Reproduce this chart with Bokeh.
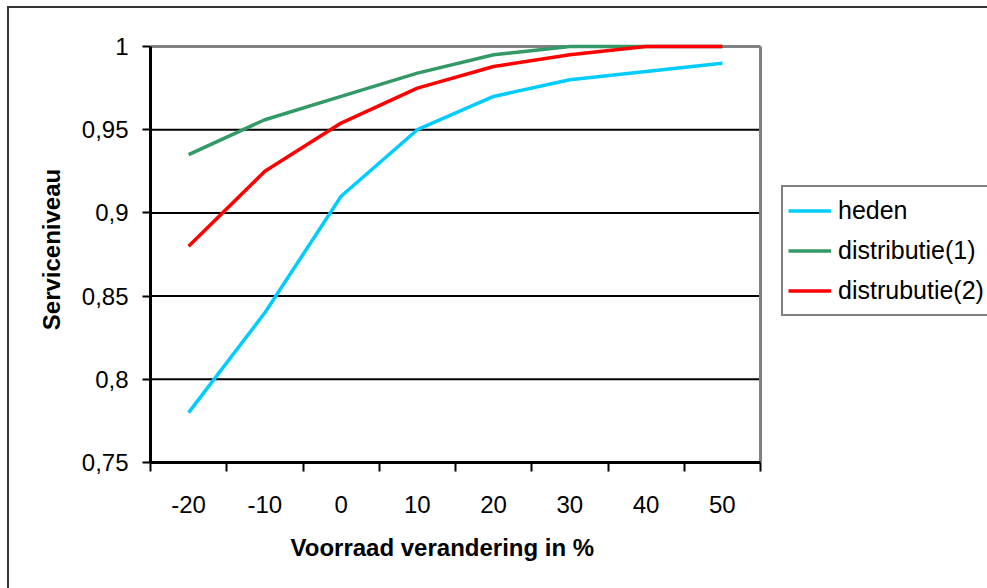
from bokeh.plotting import figure
from bokeh.models import (Range1d, FixedTicker, CustomJSTickFormatter, Legend,
                          LegendItem, Title)
from bokeh.embed import file_html
from bokeh.resources import INLINE

# Voorraadverandering (%) per categorie en het bijbehorende serviceniveau
categories = ["-20", "-10", "0", "10", "20", "30", "40", "50"]
heden = [0.78, 0.84, 0.91, 0.95, 0.97, 0.98, 0.985, 0.99]
distributie_1 = [0.935, 0.956, 0.97, 0.984, 0.995, 1.0, 1.0, 1.0]
distrubutie_2 = [0.88, 0.925, 0.954, 0.975, 0.988, 0.995, 1.0, 1.0]

series_names = ["heden", "distributie(1)", "distrubutie(2)"]
series_values = [heden, distributie_1, distrubutie_2]
series_colors = ["#00CCFF", "#339966", "#FF0000"]

y_ticks = [0.75, 0.8, 0.85, 0.9, 0.95, 1.0]
y_grid = [0.8, 0.85, 0.9, 0.95]

x_title = "Voorraad verandering in %"
y_title = "Serviceniveau"

FONT = "Liberation Sans"

# canvas geometry (pixels)
W, H = 987, 588
LEFT, TOP, BOTTOM = 150, 36, 126
PLOT_W, PLOT_H = 610, 416          # the plotting area proper
FRAME_W = W - LEFT                 # frame runs on to the right edge so the legend fits in it
FRAME_H = H - TOP - BOTTOM

n = len(categories)
y0, y1 = y_ticks[0], y_ticks[-1]
x_end = n * FRAME_W / PLOT_W
y_end = y0 + (y1 - y0) * FRAME_H / PLOT_H

# categories sit in the middle of equal slots; tick marks fall between them
x_centers = [i + 0.5 for i in range(n)]
x_bounds = list(range(n + 1))

p = figure(width=W, height=H, output_backend="svg", toolbar_location=None,
           x_range=Range1d(0, x_end), y_range=Range1d(y0, y_end),
           min_border_left=LEFT, min_border_right=0,
           min_border_top=TOP, min_border_bottom=BOTTOM,
           background_fill_color="white", border_fill_color=None)
p.outline_line_color = None

# chart-area frame: dark left and top edge painted behind the canvas
edge = "linear-gradient(#333333, #333333)"
p.styles = {"background": f"{edge} 7px 6px / 2px 100% no-repeat, "
                          f"{edge} 7px 6px / 100% 2px no-repeat, #ffffff"}

# horizontal gridlines across the plotting area only
p.segment(x0=[0] * len(y_grid), x1=[n] * len(y_grid), y0=y_grid, y1=y_grid,
          line_color="black", line_width=2)
# grey border on the top and right of the plotting area
p.segment(x0=[0, n], x1=[n, n], y0=[y1, y0], y1=[y1, y1],
          line_color="#808080", line_width=3)

renderers = []
for name, vals, col in zip(series_names, series_values, series_colors):
    r = p.line(x_centers, vals, line_color=col, line_width=3.5)
    renderers.append((name, r))

# x axis: labels at the slot centres, tick marks on the slot boundaries
xa = p.xaxis[0]
xa.bounds = (0, n)
xa.ticker = FixedTicker(ticks=x_centers, minor_ticks=x_bounds)
xa.major_label_overrides = {c: lab for c, lab in zip(x_centers, categories)}
xa.major_tick_out = 0
xa.major_tick_in = 0
xa.minor_tick_out = 9
xa.minor_tick_in = 0
xa.minor_tick_line_color = "black"
xa.minor_tick_line_width = 2
xa.axis_line_color = "black"
xa.axis_line_width = 3
xa.major_label_standoff = 24
xa.major_label_text_font = FONT
xa.major_label_text_font_size = "24px"
xa.major_label_text_color = "black"

# x axis title, placed under the plotting area rather than the wider frame
p.add_layout(Title(text=x_title, align="left", offset=140, standoff=32,
                   text_font=FONT, text_font_size="24px", text_font_style="bold",
                   text_color="black"), "below")

ya = p.yaxis[0]
ya.bounds = (y0, y1)
ya.ticker = FixedTicker(ticks=y_ticks, minor_ticks=[])
ya.formatter = CustomJSTickFormatter(code="return tick.toString().replace('.', ',');")
ya.major_tick_out = 8
ya.major_tick_in = 0
ya.major_tick_line_color = "black"
ya.major_tick_line_width = 2
ya.minor_tick_out = 0
ya.minor_tick_in = 0
ya.axis_line_color = "black"
ya.axis_line_width = 3
ya.major_label_standoff = 14
ya.major_label_text_font = FONT
ya.major_label_text_font_size = "24px"
ya.major_label_text_color = "black"
ya.axis_label = y_title
ya.axis_label_text_font = FONT
ya.axis_label_text_font_size = "24px"
ya.axis_label_text_font_style = "bold"
ya.axis_label_text_color = "black"
ya.axis_label_standoff = 14

p.xgrid.visible = False
p.ygrid.visible = False

legend = Legend(items=[LegendItem(label=nm, renderers=[r]) for nm, r in renderers],
                location=(631, 146), margin=0, padding=5, spacing=3,
                glyph_width=43, glyph_height=37, label_height=37,
                label_standoff=7,
                label_text_font=FONT, label_text_font_size="25px",
                label_text_color="black",
                border_line_color="black", border_line_width=2,
                background_fill_color="white", background_fill_alpha=1)
p.add_layout(legend)

open("out.html", "w").write(file_html(p, INLINE))
